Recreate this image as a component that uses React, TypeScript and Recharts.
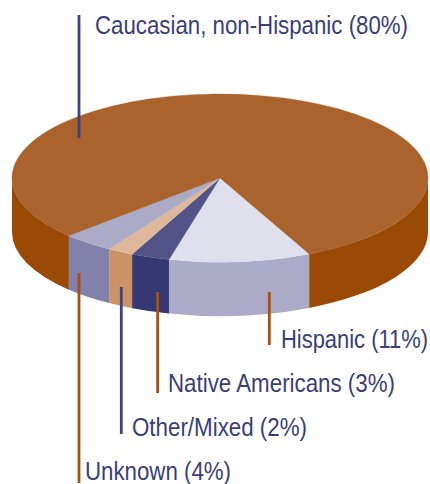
import React from 'react';
import { PieChart, Pie } from 'recharts';

const categories = ['Hispanic', 'Native Americans', 'Other/Mixed', 'Unknown', 'Caucasian, non-Hispanic'];
const shares = [11, 3, 2, 4, 80];
const topColors = ['#E0E0EC', '#525489', '#DFB89C', '#ABABC8', '#AB632E'];
const sideColors = ['#ABABC8', '#363873', '#CB9168', '#8181AB', '#9B4A06'];

const tableData = categories.map((name, i) => ({ name, value: shares[i], fill: topColors[i], side: sideColors[i] }));

const W = 430, H = 484;
const CX = 220, CY = 178, RX = 208, RY = 84, DEPTH = 54;
const NAVY = '#3E4280', RUST = '#A8500F', TEXT = '#3A3E78';

const callouts = [
  { x: 269.3, y1: 292, y2: 345, color: RUST, tx: 281, ty: 347.6, len: 147 },
  { x: 157.6, y1: 292, y2: 393, color: RUST, tx: 168, ty: 391.6, len: 227 },
  { x: 121.3, y1: 287, y2: 434, color: NAVY, tx: 132, ty: 435.6, len: 175 },
  { x: 79, y1: 273, y2: 483, color: RUST, tx: 85, ty: 480, len: 146 },
  { x: 79, y1: 15, y2: 138, color: NAVY, tx: 95, ty: 33.6, len: 313 },
];

const pt = (t: number, dy = 0) => {
  const r = (t * Math.PI) / 180;
  return [CX + RX * Math.cos(r), CY + dy + RY * Math.sin(r)];
};

function Slice3D(props: any) {
  const t0 = -props.startAngle;
  const t1 = -props.endAngle;
  const [ax, ay] = pt(t0);
  const [bx, by] = pt(t1);
  const large = t1 - t0 > 180 ? 1 : 0;
  const top = `M${CX},${CY}L${ax},${ay}A${RX},${RY} 0 ${large} 1 ${bx},${by}Z`;
  const walls: string[] = [];
  [[0, 180], [360, 540]].forEach(([lo, hi]) => {
    const a = Math.max(t0, lo);
    const b = Math.min(t1, hi);
    if (b > a) {
      const [x0, y0] = pt(a);
      const [x1, y1] = pt(b);
      const [x2, y2] = pt(b, DEPTH);
      const [x3, y3] = pt(a, DEPTH);
      walls.push(`M${x0},${y0}A${RX},${RY} 0 0 1 ${x1},${y1}L${x2},${y2}A${RX},${RY} 0 0 0 ${x3},${y3}Z`);
    }
  });
  return (
    <g>
      {walls.map((d, k) => <path key={k} d={d} fill={props.side ?? props.payload?.side} />)}
      <path d={top} fill={props.fill} stroke={props.fill} strokeWidth={0.4} />
    </g>
  );
}

function Callout(props: any) {
  const i = props.index;
  const c = callouts[i];
  return (
    <g>
      <line x1={c.x} x2={c.x} y1={c.y1} y2={c.y2} stroke={c.color} strokeWidth={2.8} />
      <text
        x={c.tx}
        y={c.ty}
        fontFamily="'Liberation Sans', Arial, sans-serif"
        fontSize={25}
        fill={TEXT}
        textLength={c.len}
        lengthAdjust="spacingAndGlyphs"
      >
        {`${categories[i]} (${shares[i]}%)`}
      </text>
    </g>
  );
}

export default function App() {
  return (
    <div style={{ position: 'fixed', left: 0, top: 0, width: W, height: H, background: '#fff' }}>
      <PieChart width={W} height={H} margin={{ top: 0, right: 0, bottom: 0, left: 0 }}>
        <Pie
          data={tableData}
          dataKey="value"
          nameKey="name"
          cx={CX}
          cy={CY}
          innerRadius={0}
          outerRadius={RX}
          startAngle={-64.6}
          endAngle={-424.6}
          paddingAngle={0}
          stroke="none"
          labelLine={false}
          label={Callout}
          isAnimationActive={false}
          shape={Slice3D}
        />
      </PieChart>
    </div>
  );
}
